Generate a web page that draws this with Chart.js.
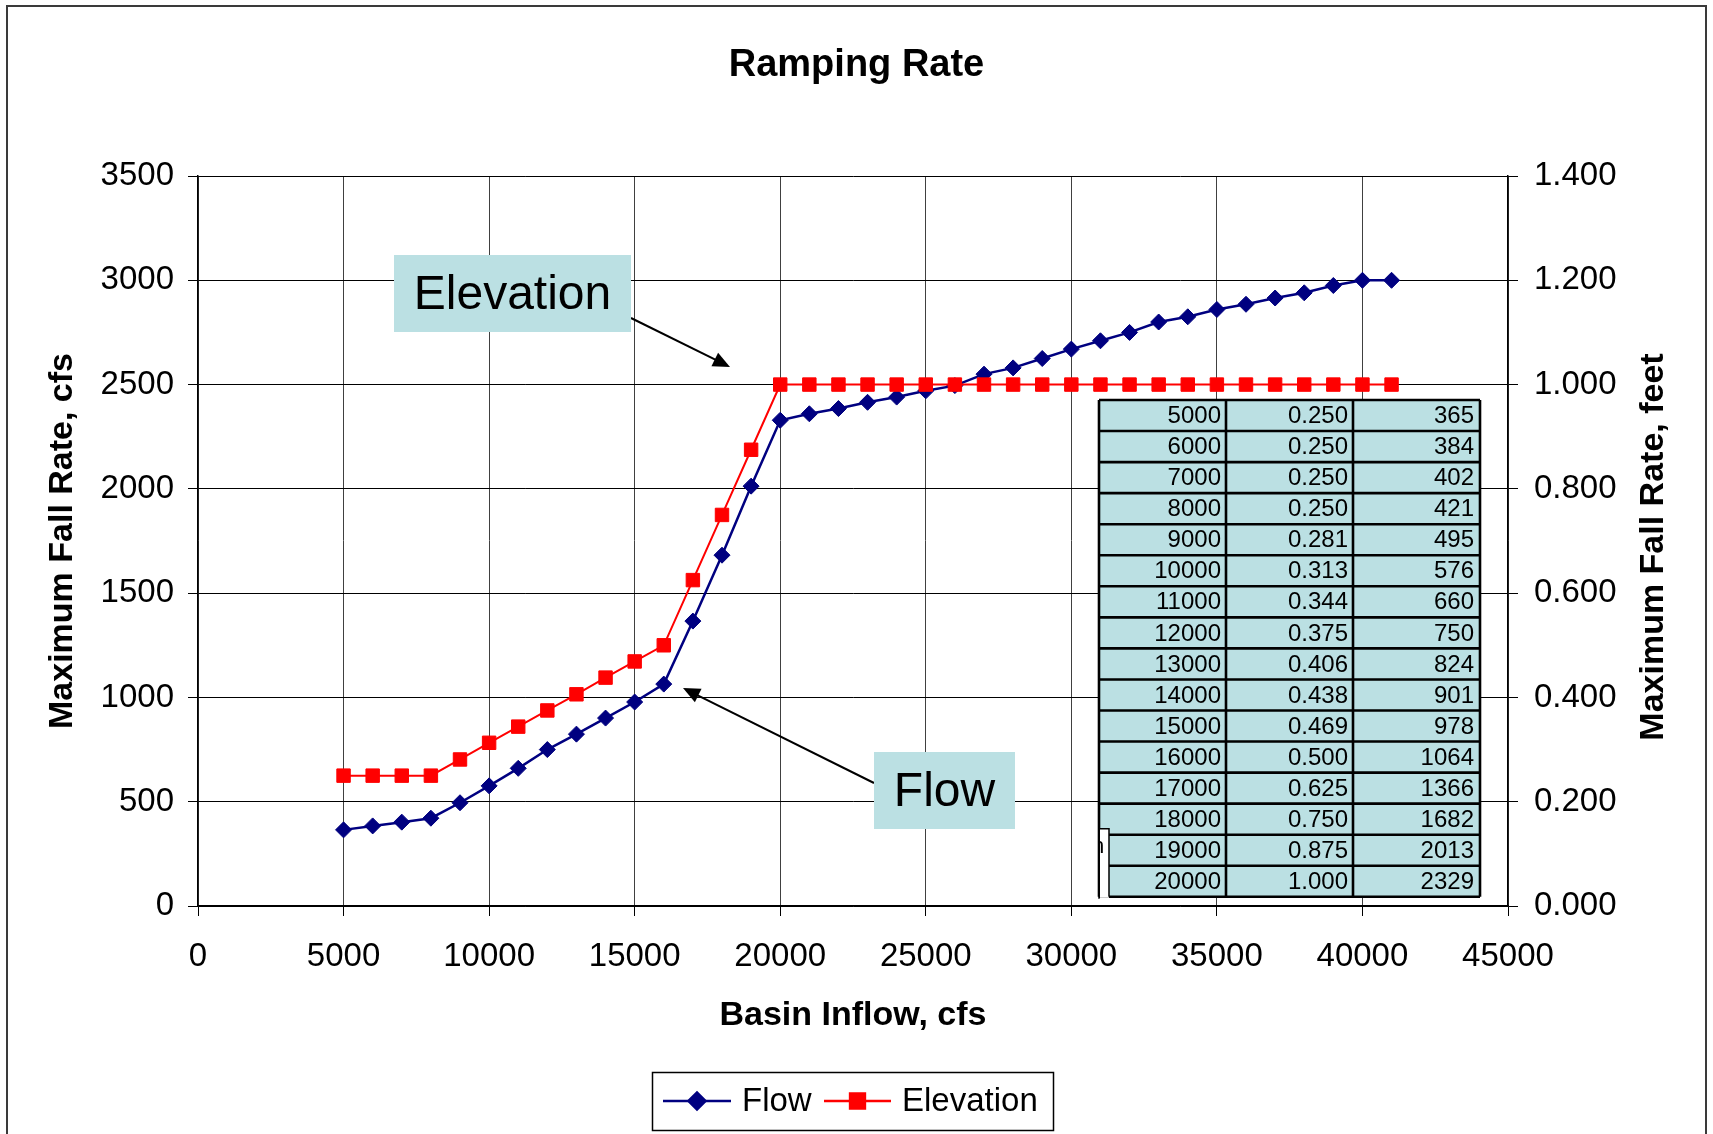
<!DOCTYPE html>
<html>
<head>
<meta charset="utf-8">
<title>Ramping Rate</title>
<script src="https://cdn.jsdelivr.net/npm/chart.js@4.4.1/dist/chart.umd.min.js"></script>
<style>
  html, body { margin:0; padding:0; background:#fff; }
  #wrap { width:1713px; height:1134px; position:relative; }
</style>
</head>
<body>
<div id="wrap"><canvas id="chRamp" width="1713" height="1134"></canvas></div>
<script>
// data
const inflowCfs = [5000, 6000, 7000, 8000, 9000, 10000, 11000, 12000, 13000, 14000, 15000, 16000, 17000, 18000, 19000, 20000,
  21000, 22000, 23000, 24000, 25000, 26000, 27000, 28000, 29000, 30000, 31000, 32000, 33000, 34000, 35000, 36000, 37000, 38000, 39000, 40000, 41000];
const flowCfs = [365, 384, 402, 421, 495, 576, 660, 750, 824, 901, 978, 1064, 1366, 1682, 2013, 2329,
  2360, 2385, 2415, 2440, 2470, 2495, 2550, 2580, 2625, 2670, 2710, 2750, 2800, 2825, 2860, 2885, 2915, 2940, 2975, 3000, 3000];
const elevFeet = [0.250, 0.250, 0.250, 0.250, 0.281, 0.313, 0.344, 0.375, 0.406, 0.438, 0.469, 0.500, 0.625, 0.750, 0.875, 1.000,
  1.000, 1.000, 1.000, 1.000, 1.000, 1.000, 1.000, 1.000, 1.000, 1.000, 1.000, 1.000, 1.000, 1.000, 1.000, 1.000, 1.000, 1.000, 1.000, 1.000, 1.000];
const tableRows = 16; // table shows the first 16 points

const xTicks = [0, 5000, 10000, 15000, 20000, 25000, 30000, 35000, 40000, 45000];
const flowTicks = [0, 500, 1000, 1500, 2000, 2500, 3000, 3500];
const elevTicks = [0, 0.2, 0.4, 0.6, 0.8, 1.0, 1.2, 1.4];

const FONT = "'Liberation Sans', Arial, Helvetica, sans-serif";
const NAVY = '#000080', RED = '#FF0000', TEAL = '#BBE0E3';

function setTicks(list){ return s => { s.ticks = list.map(v => ({ value: v })); }; }

function arrow(ctx, x1, y1, x2, y2){
  const a = Math.atan2(y2 - y1, x2 - x1), len = 17, hw = 7.5;
  ctx.beginPath(); ctx.moveTo(x1, y1); ctx.lineTo(x2 - Math.cos(a)*len*0.8, y2 - Math.sin(a)*len*0.8); ctx.stroke();
  ctx.beginPath();
  ctx.moveTo(x2, y2);
  ctx.lineTo(x2 - Math.cos(a)*len + Math.sin(a)*hw, y2 - Math.sin(a)*len - Math.cos(a)*hw);
  ctx.lineTo(x2 - Math.cos(a)*len - Math.sin(a)*hw, y2 - Math.sin(a)*len + Math.cos(a)*hw);
  ctx.closePath(); ctx.fill();
}

function labelBox(ctx, x, y, w, h, text){
  ctx.fillStyle = TEAL; ctx.fillRect(x, y, w, h);
  ctx.fillStyle = '#000'; ctx.font = `48px ${FONT}`;
  ctx.textAlign = 'center'; ctx.textBaseline = 'middle';
  ctx.fillText(text, x + w/2, y + h/2 + 2);
}

const frame = {
  id: 'frame',
  beforeDraw(chart){
    const ctx = chart.ctx;
    ctx.save();
    ctx.fillStyle = '#fff'; ctx.fillRect(0, 0, chart.width, chart.height);
    ctx.strokeStyle = '#3a3a3a'; ctx.lineWidth = 2;
    ctx.strokeRect(7, 6, 1699, 1150);
    ctx.restore();
  },
  afterDraw(chart){
    const ctx = chart.ctx, a = chart.chartArea;
    ctx.save();
    // right axis title, reads bottom-to-top like the left one
    ctx.translate(1654, (a.top + a.bottom)/2 + 6);
    ctx.rotate(-Math.PI/2);
    ctx.fillStyle = '#000'; ctx.font = `bold 34px ${FONT}`;
    ctx.textAlign = 'center'; ctx.textBaseline = 'middle';
    ctx.fillText('Maximum Fall Rate, feet', 0, 0);
    ctx.restore();
  }
};

// data table pasted over the plot area
const dataTable = {
  id: 'dataTable',
  afterDatasetsDraw(chart){
    const ctx = chart.ctx;
    const cols = [1099, 1226, 1353, 1480], top = 400, rowH = 31.05;
    ctx.save();
    for (let r = 0; r < tableRows; r++){
      const y = top + r*rowH;
      ctx.fillStyle = TEAL; ctx.fillRect(cols[0], y, cols[3]-cols[0], rowH);
    }
    ctx.strokeStyle = '#000'; ctx.lineWidth = 2.6;
    ctx.beginPath();
    for (let r = 0; r <= tableRows; r++){ ctx.moveTo(cols[0], top + r*rowH); ctx.lineTo(cols[3], top + r*rowH); }
    cols.forEach(x => { ctx.moveTo(x, top); ctx.lineTo(x, top + tableRows*rowH); });
    ctx.stroke();
    ctx.fillStyle = '#000'; ctx.font = `24px ${FONT}`;
    ctx.textAlign = 'right'; ctx.textBaseline = 'middle';
    for (let r = 0; r < tableRows; r++){
      const cy = top + r*rowH + rowH/2 + 1;
      ctx.fillText(String(inflowCfs[r]), cols[1] - 5, cy);
      ctx.fillText(elevFeet[r].toFixed(3), cols[2] - 5, cy);
      ctx.fillText(String(flowCfs[r]), cols[3] - 6, cy);
    }
    // stray white box at bottom-left corner
    const by = top + 14*rowH - 6;
    ctx.fillStyle = '#fff'; ctx.fillRect(cols[0] + 1, by, 9, top + tableRows*rowH - by + 1);
    ctx.lineWidth = 1.5;
    ctx.beginPath(); ctx.moveTo(cols[0], top + tableRows*rowH + 2); ctx.lineTo(cols[0], by); ctx.lineTo(cols[0] + 10, by); ctx.lineTo(cols[0] + 10, top + tableRows*rowH); ctx.stroke();
    ctx.save();
    ctx.beginPath(); ctx.rect(cols[0] + 1, by + 2, 8, 30); ctx.clip();
    ctx.fillStyle = '#000'; ctx.textAlign = 'left'; ctx.font = `22px ${FONT}`;
    ctx.fillText('n', cols[0] - 7, by + 18);
    ctx.restore();
    ctx.restore();
  }
};

const notes = {
  id: 'notes',
  afterDraw(chart){
    const ctx = chart.ctx;
    ctx.save();
    ctx.strokeStyle = '#000'; ctx.fillStyle = '#000'; ctx.lineWidth = 2;
    arrow(ctx, 631, 318, 730, 367);
    arrow(ctx, 874, 783, 683, 688);
    labelBox(ctx, 394, 255, 237, 77, 'Elevation');
    labelBox(ctx, 874, 752, 141, 77, 'Flow');

    // legend
    ctx.strokeStyle = '#000'; ctx.lineWidth = 1.5;
    ctx.strokeRect(652.5, 1072.5, 401, 58);
    const items = [
      { label: 'Flow', color: NAVY, style: 'rectRot', r: 8.5, x0: 663, x1: 731, tx: 742 },
      { label: 'Elevation', color: RED, style: 'rect', r: 10.5, x0: 824, x1: 891, tx: 902 }
    ];
    const ly = 1101;
    items.forEach(it => {
      ctx.strokeStyle = it.color; ctx.fillStyle = it.color; ctx.lineWidth = 2.5;
      ctx.beginPath(); ctx.moveTo(it.x0, ly); ctx.lineTo(it.x1, ly); ctx.stroke();
      Chart.helpers.drawPoint(ctx, { pointStyle: it.style, radius: it.r, rotation: 0, borderWidth: 1 }, (it.x0 + it.x1)/2, ly);
      ctx.fillStyle = '#000'; ctx.font = `33px ${FONT}`;
      ctx.textAlign = 'left'; ctx.textBaseline = 'middle';
      ctx.fillText(it.label, it.tx, ly + 1);
    });
    ctx.restore();
  }
};

const tickFont = { family: FONT, size: 33 };

new Chart(document.getElementById('chRamp'), {
  type: 'line',
  data: {
    datasets: [
      { label: 'Flow', yAxisID: 'y', order: 1,
        data: inflowCfs.map((x, i) => ({ x, y: flowCfs[i] })),
        borderColor: NAVY, backgroundColor: NAVY, borderWidth: 2.5,
        pointStyle: 'rectRot', pointRadius: 8, pointBorderWidth: 1, tension: 0 },
      { label: 'Elevation', yAxisID: 'y1', order: 0,
        data: inflowCfs.map((x, i) => ({ x, y: elevFeet[i] })),
        borderColor: RED, backgroundColor: RED, borderWidth: 2,
        pointStyle: 'rect', pointRadius: 9.5, pointBorderWidth: 1, tension: 0 }
    ]
  },
  options: {
    responsive: false, animation: false,
    layout: { padding: 0 },
    plugins: {
      legend: { display: false },
      tooltip: { enabled: false },
      title: { display: true, text: 'Ramping Rate', color: '#000',
        font: { family: FONT, size: 38, weight: 'bold' }, padding: { top: 43, bottom: 87.4 } }
    },
    scales: {
      x: {
        type: 'linear', min: 0, max: 45000, afterBuildTicks: setTicks(xTicks),
        afterFit: s => { s.height = 228; },
        grid: { color: '#404040', lineWidth: 1, tickLength: 10, tickColor: '#000' },
        border: { color: '#000', width: 1.5 },
        ticks: { color: '#000', font: tickFont, padding: 21, maxRotation: 0, autoSkip: false, callback: v => String(v) },
        title: { display: true, text: 'Basin Inflow, cfs', color: '#000',
          font: { family: FONT, size: 34, weight: 'bold' }, padding: { top: 0, bottom: 98 } }
      },
      y: {
        position: 'left', min: 0, max: 3500, afterBuildTicks: setTicks(flowTicks),
        afterFit: s => { s.width = 198; },
        grid: { color: '#000', lineWidth: 1, tickLength: 10, tickColor: '#000' },
        border: { color: '#000', width: 1.5 },
        ticks: { color: '#000', font: tickFont, padding: 14, callback: v => String(v) },
        title: { display: true, text: 'Maximum Fall Rate, cfs', color: '#000',
          font: { family: FONT, size: 34, weight: 'bold' }, padding: { top: 42, bottom: 0 } }
      },
      y1: {
        position: 'right', min: 0, max: 1.4, afterBuildTicks: setTicks(elevTicks),
        afterFit: s => { s.width = 205; },
        grid: { drawOnChartArea: false, tickLength: 10, tickColor: '#000' },
        border: { color: '#000', width: 1.5 },
        ticks: { color: '#000', font: tickFont, padding: 16, callback: v => v.toFixed(3) }
      }
    }
  },
  plugins: [frame, dataTable, notes]
});
</script>
</body>
</html>
